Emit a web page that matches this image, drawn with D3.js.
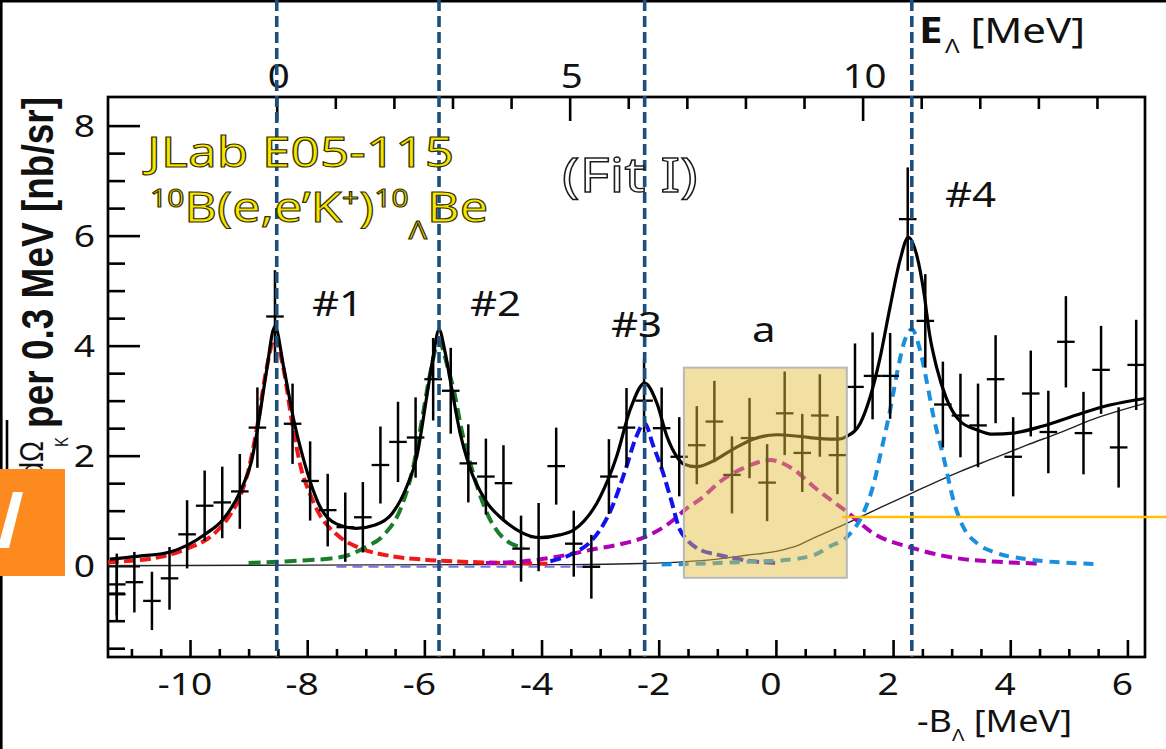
<!DOCTYPE html>
<html><head><meta charset="utf-8">
<script src="https://cdn.jsdelivr.net/npm/d3@7"></script>
<style>body{margin:0;background:#fff}svg{display:block}</style>
</head><body>
<svg id="c" width="1166" height="749"></svg>
<script>
// ---------- data ----------
const binX = [-11.25,-11.25,-10.95,-10.65,-10.35,-10.05,-9.75,-9.45,-9.15,-8.85,-8.55,-8.25,-7.95,-7.65,-7.35,-7.05,-6.75,-6.45,-6.15,-5.85,-5.55,-5.25,-4.95,-4.65,-4.35,-4.05,-3.75,-3.45,-3.15,-2.85,-2.55,-2.25,-1.95,-1.65,-1.35,-1.05,-0.75,-0.45,-0.15,0.15,0.45,0.75,1.05,1.35,1.65,1.95,2.25,2.55,2.85,3.15,3.45,3.75,4.05,4.35,4.65,4.95,5.25,5.55,5.85,6.15];
const counts = [-0.34,-0.52,-0.30,-0.64,-0.23,0.57,1.09,1.15,1.35,2.51,4.53,2.58,1.54,1.01,0.70,0.88,1.83,2.25,2.33,3.39,3.18,1.86,1.62,1.50,0.31,0.52,1.81,0.40,-0.02,1.62,2.51,3.00,2.50,1.98,2.19,2.62,1.65,2.32,1.51,2.77,2.05,2.73,2.01,3.25,3.45,3.45,6.30,4.45,2.93,2.73,2.55,3.39,1.98,3.13,2.43,4.07,2.41,3.56,2.15,3.65];
const errs = [0.56,0.50,0.55,0.53,0.57,0.62,0.64,0.65,0.68,0.73,0.84,0.73,0.72,0.66,0.63,0.64,0.70,0.73,0.73,0.75,0.78,0.71,0.69,0.69,0.60,0.62,0.70,0.60,0.58,0.68,0.72,0.76,0.74,0.72,0.71,0.74,0.70,0.73,0.70,0.76,0.71,0.75,0.71,0.79,0.79,0.78,0.94,0.85,0.78,0.76,0.76,0.80,0.72,0.78,0.75,0.83,0.75,0.80,0.73,0.82];
const binHalf = 0.15;

const fitTotal = [[-11.37,0.12],[-10.9,0.17],[-10.34,0.25],[-9.73,0.58],[-9.43,0.85],[-9.13,1.38],[-8.95,1.9],[-8.83,2.6],[-8.7,3.5],[-8.55,4.35],[-8.4,3.6],[-8.22,2.6],[-8.08,2.0],[-7.94,1.5],[-7.78,1.07],[-7.5,0.76],[-7.16,0.68],[-6.84,0.74],[-6.55,0.95],[-6.3,1.44],[-6.13,1.98],[-5.96,3.07],[-5.85,3.8],[-5.75,4.29],[-5.65,3.9],[-5.56,3.38],[-5.39,2.41],[-5.24,1.83],[-4.94,1.16],[-4.65,0.83],[-4.37,0.62],[-4.03,0.51],[-3.69,0.56],[-3.45,0.65],[-3.0,1.25],[-2.72,1.98],[-2.49,2.83],[-2.24,3.32],[-2.03,2.95],[-1.86,2.35],[-1.69,1.98],[-1.58,1.85],[-1.35,1.80],[-1.04,1.92],[-0.73,2.12],[-0.39,2.3],[0.01,2.38],[0.41,2.35],[0.75,2.31],[1.07,2.30],[1.21,2.35],[1.44,2.59],[1.61,3.07],[1.77,3.74],[1.95,4.71],[2.12,5.56],[2.26,5.97],[2.41,5.62],[2.52,5.01],[2.63,4.16],[2.74,3.62],[2.91,3.04],[3.14,2.63],[3.43,2.47],[3.71,2.39],[4.05,2.41],[4.56,2.54],[5.13,2.74],[5.7,2.92],[6.3,3.04]];
const background = [[-11.4,0.0],[-8,0.01],[-5,0.02],[-3.5,0.02],[-2.3,0.04],[-1.6,0.07],[-1.0,0.12],[-0.5,0.19],[0,0.26],[0.4,0.38],[0.64,0.5],[1.21,0.77],[1.77,1.05],[2.34,1.33],[3.14,1.71],[3.71,1.95],[4.28,2.19],[4.85,2.42],[5.41,2.66],[6.3,2.95]];
const peak1 = [[-11.4,0.06],[-11,0.09],[-10.5,0.16],[-10,0.33],[-9.6,0.57],[-9.3,0.95],[-9.15,1.25],[-9,1.75],[-8.85,2.55],[-8.7,3.55],[-8.55,4.14],[-8.4,3.55],[-8.25,2.55],[-8.1,1.75],[-7.95,1.3],[-7.8,0.95],[-7.5,0.57],[-7.1,0.32],[-6.6,0.18],[-6,0.11],[-5,0.06],[-3.9,0.035]];
const peak2 = [[-9.0,0.05],[-8.5,0.07],[-8.0,0.1],[-7.6,0.13],[-7.3,0.19],[-7.0,0.34],[-6.7,0.55],[-6.4,1.05],[-6.2,1.75],[-6.05,2.6],[-5.9,3.5],[-5.75,4.07],[-5.6,3.6],[-5.5,3.2],[-5.35,2.4],[-5.2,1.8],[-4.95,1.0],[-4.65,0.5],[-4.3,0.32]];
const peak3 = [[-3.85,0.08],[-3.45,0.23],[-3.15,0.45],[-2.84,0.96],[-2.55,1.8],[-2.4,2.3],[-2.24,2.59],[-2.1,2.2],[-1.93,1.7],[-1.79,1.2],[-1.65,0.68],[-1.5,0.45],[-1.35,0.32],[-1.0,0.2],[-0.74,0.14],[-0.4,0.08],[0.0,0.05]];
const peakA = [[-4.95,0.05],[-4.3,0.08],[-3.75,0.16],[-3.15,0.29],[-2.7,0.38],[-2.24,0.52],[-1.75,0.83],[-1.55,1.02],[-1.29,1.21],[-0.95,1.53],[-0.5,1.8],[-0.1,1.92],[0.3,1.75],[0.64,1.44],[1.21,0.98],[1.66,0.59],[2.34,0.32],[2.95,0.16],[3.8,0.07],[4.47,0.04]];
const peak4 = [[-1.95,0.02],[-1.2,0.04],[-0.5,0.07],[0.12,0.1],[0.64,0.19],[0.92,0.35],[1.21,0.52],[1.49,0.95],[1.66,1.45],[1.8,2.1],[1.95,2.83],[2.09,3.62],[2.2,4.1],[2.32,4.3],[2.46,3.92],[2.58,3.32],[2.69,2.71],[2.86,1.98],[3.03,1.19],[3.2,0.7],[3.43,0.41],[3.77,0.23],[4.28,0.12],[5.02,0.05],[5.48,0.03]];
const flatComp = [[-7.5,-0.02],[-3.0,-0.02]];

const peakPositions = [-8.52, -5.75, -2.24, 2.32];   // -B_Λ of the marked states
const regionA = {x0:-1.57, x1:1.21, y0:-0.22, y1:3.6};
const markerLevel = 0.885;                             // horizontal marker line
const markerStart = 1.13;
const eOffset = 8.52;                                   // E_Λ = -B_Λ + 8.52

const xMajor = [-10,-8,-6,-4,-2,0,2,4,6];
const xMinor = d3.range(-11,6.01,0.5).filter(v=>Math.abs(v%2)>1e-6);
const yMajor = [0,2,4,6,8];
const yMinor = d3.range(-1.5,8.01,0.5).filter(v=>Math.abs(v%2)>1e-6);
const eMajor = [0,5,10];
const eMinor = d3.range(0,14.01,1).filter(v=>v%5!==0);

// ---------- layout ----------
const W=1166,H=749;
const L=108,R=1145,T=97,B=657;
const svg = d3.select('#c');
const x = d3.scaleLinear().domain([-11.4,6.3]).range([L,R]);
const y = d3.scaleLinear().domain([-1.66,8.52]).range([B,T]);
const xe = d3.scaleLinear().domain([-11.4+eOffset,6.3+eOffset]).range([L,R]);
const SX = 1.2; // horizontal stretch of the picture
const FONT = "'Noto Sans', 'Open Sans', sans-serif";

function stext(parent,px,py,str,o={}){
  const t = parent.append('text')
    .attr('transform',`translate(${px},${py}) scale(${SX},1)`+(o.rot?` rotate(${o.rot})`:''))
    .attr('font-family',o.family||FONT)
    .attr('font-size',o.size||30)
    .attr('font-weight',o.weight||'normal')
    .attr('text-anchor',o.anchor||'start')
    .attr('fill',o.fill||'#111');
  if(o.stroke){t.attr('stroke',o.stroke).attr('stroke-width',o.sw||1);}
  if(o.len){t.attr('textLength',o.len).attr('lengthAdjust','spacingAndGlyphs')}
  if(str!==null) t.text(str);
  return t;
}

// borders of the picture
svg.append('line').attr('x1',0).attr('x2',W).attr('y1',1.3).attr('y2',1.3).attr('stroke','#000').attr('stroke-width',2.6);
svg.append('line').attr('x1',1.3).attr('x2',1.3).attr('y1',0).attr('y2',H).attr('stroke','#000').attr('stroke-width',2.6);

// ---------- axes ----------
function styleAxis(g){g.select('.domain').remove();g.selectAll('line').attr('stroke','#000').attr('stroke-width',2.6);}
svg.append('g').attr('transform',`translate(0,${B})`).call(d3.axisBottom(x).tickValues(xMinor).tickSize(-8).tickFormat('')).call(styleAxis);
svg.append('g').attr('transform',`translate(0,${B})`).call(d3.axisBottom(x).tickValues(xMajor).tickSize(-17).tickFormat('')).call(styleAxis);
svg.append('g').attr('transform',`translate(${L},0)`).call(d3.axisLeft(y).tickValues(yMinor).tickSize(-17).tickFormat('')).call(styleAxis);
svg.append('g').attr('transform',`translate(${L},0)`).call(d3.axisLeft(y).tickValues(yMajor).tickSize(-32).tickFormat('')).call(styleAxis);
svg.append('g').attr('transform',`translate(0,${T})`).call(d3.axisTop(xe).tickValues(eMinor).tickSize(-12).tickFormat('')).call(styleAxis);
svg.append('g').attr('transform',`translate(0,${T})`).call(d3.axisTop(xe).tickValues(eMajor).tickSize(-24).tickFormat('')).call(styleAxis);
svg.append('rect').attr('x',L).attr('y',T).attr('width',R-L).attr('height',B-T).attr('fill','none').attr('stroke','#000').attr('stroke-width',2.7);

// tick labels
xMajor.forEach(v=>stext(svg,x(v)-5,695,String(v),{size:31,anchor:'middle'}));
yMajor.forEach(v=>stext(svg,95,y(v)+11,String(v),{size:31,anchor:'end'}));
eMajor.forEach(v=>stext(svg,xe(v)+2,88,String(v),{size:32,anchor:'middle'}));

// ---------- curves ----------
const line = d3.line().x(d=>x(d[0])).y(d=>y(d[1])).curve(d3.curveMonotoneX);
const plot = svg.append('g');
plot.append('path').attr('d',line(background)).attr('fill','none').attr('stroke','#222').attr('stroke-width',1.4);
plot.append('path').attr('d',line(flatComp)).attr('fill','none').attr('stroke','#7474e6').attr('stroke-width',2).attr('stroke-dasharray','10,6');
const comps = [
  {d:peak1,c:'#f01818',dash:'11,5'},
  {d:peak2,c:'#1a7d2c',dash:'12,6'},
  {d:peakA,c:'#b000b8',dash:'11,6'},
  {d:peak3,c:'#1212ee',dash:'11,5'},
  {d:peak4,c:'#1a8fe0',dash:'10,7'}
];
comps.forEach(k=>plot.append('path').attr('d',line(k.d)).attr('fill','none').attr('stroke',k.c).attr('stroke-width',4).attr('stroke-dasharray',k.dash));
plot.append('path').attr('d',line(fitTotal)).attr('fill','none').attr('stroke','#000').attr('stroke-width',3.2);

// data points with error bars
const pts = plot.append('g').attr('stroke','#000');
binX.forEach((bx,i)=>{
  pts.append('line').attr('x1',x(bx)).attr('x2',x(bx)).attr('y1',y(counts[i]-errs[i])).attr('y2',y(counts[i]+errs[i])).attr('stroke-width',2.5);
  pts.append('line').attr('x1',x(bx-binHalf)).attr('x2',x(bx+binHalf)).attr('y1',y(counts[i])).attr('y2',y(counts[i])).attr('stroke-width',2.3);
});

// highlighted region "a"
svg.append('rect').attr('x',x(regionA.x0)).attr('y',y(regionA.y1)).attr('width',x(regionA.x1)-x(regionA.x0)).attr('height',y(regionA.y0)-y(regionA.y1))
  .attr('fill','rgb(228,190,62)').attr('fill-opacity',0.48).attr('stroke','#b8b8b8').attr('stroke-width',2);

// vertical dashed lines at the states
peakPositions.forEach(p=>svg.append('line').attr('x1',x(p)).attr('x2',x(p)).attr('y1',0).attr('y2',B).attr('stroke','#1d4f7c').attr('stroke-width',3.6).attr('stroke-dasharray','11,5'));

// ---------- texts ----------
stext(svg,147,167,'JLab E05-115',{size:42,fill:'#f3e900',stroke:'#3a2e00',sw:1.1,len:256});
const t2 = stext(svg,150,222,null,{size:42,fill:'#f3e900',stroke:'#3a2e00',sw:1.1});
t2.append('tspan').attr('font-size',25).attr('dy',-15).text('10');
t2.append('tspan').attr('dy',15).text('B(e,e’K');
t2.append('tspan').attr('font-size',25).attr('dy',-15).text('+');
t2.append('tspan').attr('dy',15).text(')');
t2.append('tspan').attr('font-size',25).attr('dy',-15).text('10');
t2.append('tspan').attr('font-size',25).attr('dy',32).text('Λ');
t2.append('tspan').attr('dy',-17).text('Be');
stext(svg,562,192,'(Fit I)',{size:47,fill:'#fff',stroke:'#1a1a1a',sw:1.3,len:113});

stext(svg,312,316,'#1',{size:35});
stext(svg,470,316,'#2',{size:35});
stext(svg,611,337,'#3',{size:35});
stext(svg,752,342,'a',{size:35});
stext(svg,945,207,'#4',{size:35});

// top axis title
const te = stext(svg,919,43,null,{size:35});
te.append('tspan').attr('font-weight','bold').text('E');
te.append('tspan').attr('font-size',20).attr('dy',10).attr('dx',2).text('Λ');
te.append('tspan').attr('dy',-10).text(' [MeV]');
// bottom axis title
const tb = stext(svg,917,732,null,{size:30});
tb.append('tspan').text('-B');
tb.append('tspan').attr('font-size',17).attr('dy',9).text('Λ');
tb.append('tspan').attr('dy',-9).text(' [MeV]');

// y axis title (rotated)
stext(svg,53,97,'per 0.3 MeV [nb/sr]',{size:37,weight:'bold',anchor:'end',rot:-90,family:"'Liberation Sans', Arial, sans-serif"});
stext(svg,43,441,'dΩ',{size:28,anchor:'end',rot:-90,family:"'Liberation Sans', Arial, sans-serif"});
stext(svg,68,437,'K',{size:15,anchor:'end',rot:-90,family:"'Liberation Sans', Arial, sans-serif"});
svg.append('line').attr('x1',7).attr('x2',7).attr('y1',420).attr('y2',560).attr('stroke','#000').attr('stroke-width',2.6);

// marker line and corner tag
svg.append('line').attr('x1',x(markerStart)).attr('x2',W).attr('y1',y(markerLevel)).attr('y2',y(markerLevel)).attr('stroke','#ffc000').attr('stroke-width',2.4);
svg.append('rect').attr('x',0).attr('y',469).attr('width',65).attr('height',107).attr('fill','#fd8a1f');
svg.append('polygon').attr('points','13,492 23,492 9,548 0,548 0,540').attr('fill','#fff');
</script>
</body></html>
